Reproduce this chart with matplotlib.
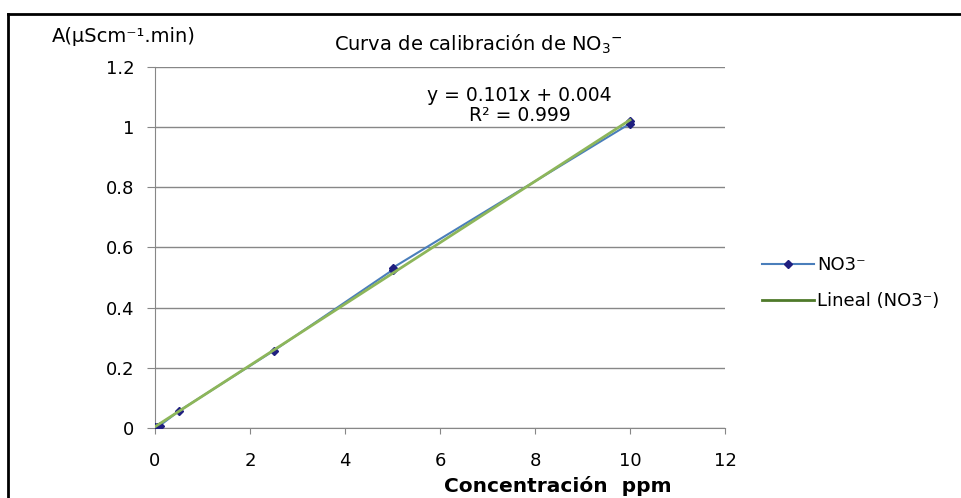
import numpy as np
import matplotlib
matplotlib.use("Agg")
import matplotlib.pyplot as plt
from matplotlib.lines import Line2D

plt.rcParams['font.family'] = ['DejaVu Sans']

# datos de calibracion
conc = [0, 0.05, 0.1, 0.5, 2.5, 5, 5, 10, 10]
area = [0.002, 0.004, 0.008, 0.056, 0.257, 0.525, 0.532, 1.012, 1.022]
ecuacion = "y = 0.101x + 0.004"
r2 = "R² = 0.999"

fig = plt.figure(figsize=(9.61, 4.98), dpi=100)
ax = fig.add_axes([155/961, 70/498, 570/961, 361/498])

# recta de ajuste (lineal)
m, b = np.polyfit(conc, area, 1)
xs = np.array([0, 10])
ax.plot(conc, area, color='#4a7ebb', lw=1.5, marker='D', ms=4,
        mfc='#1f1f80', mec='#1f1f80', zorder=3)
ax.plot(xs, m*xs + b, color='#8db65a', lw=2, zorder=4)

ax.set_xlim(0, 12)
ax.set_ylim(0, 1.2)
ax.set_xticks(range(0, 13, 2))
ax.set_yticks([0, 0.2, 0.4, 0.6, 0.8, 1.0, 1.2])
ax.set_yticklabels(['0', '0.2', '0.4', '0.6', '0.8', '1', '1.2'])
ax.grid(axis='y', color='#878787', lw=1)
ax.set_axisbelow(True)
for s in ['top', 'right']:
    ax.spines[s].set_visible(False)
for s in ['left', 'bottom']:
    ax.spines[s].set_color('#878787')
ax.tick_params(colors='#878787', labelcolor='black', labelsize=13)
ax.tick_params(axis='x', length=4, pad=13)
ax.tick_params(axis='y', length=6, pad=9)

ax.text(7.68, 1.104, ecuacion, ha='center', va='center', fontsize=13.5)
ax.text(7.68, 1.040, r2, ha='center', va='center', fontsize=13.5)

fig.text(478/961, 1 - 44/498, 'Curva de calibración de NO$_3$$^{-}$', ha='center',
         va='center', fontsize=14)
fig.text(124/961, 1 - 37/498, 'A(µScm⁻¹.min)', ha='center', va='center', fontsize=14)
fig.text(558/961, 1 - 486/498, 'Concentración  ppm', ha='center', va='center',
         fontsize=14.5, fontweight='bold')

handles = [Line2D([], [], color='#4a7ebb', marker='D', ms=4, mfc='#1f1f80', mec='#1f1f80'),
           Line2D([], [], color='#4f7a2a', lw=2)]
fig.legend(handles, ['NO3⁻', 'Lineal (NO3⁻)'], loc='center left',
           bbox_to_anchor=(762/961, 1 - 283/498), frameon=False, fontsize=13,
           handlelength=2.9, handletextpad=0.15, labelspacing=1.0,
           borderpad=0, borderaxespad=0)

# marco
fig.add_artist(Line2D([8/961, 1], [1 - 14/498, 1 - 14/498], color='black', lw=2))
fig.add_artist(Line2D([8/961, 8/961], [0, 1 - 14/498], color='black', lw=2))

fig.savefig('out.png', dpi=100)
